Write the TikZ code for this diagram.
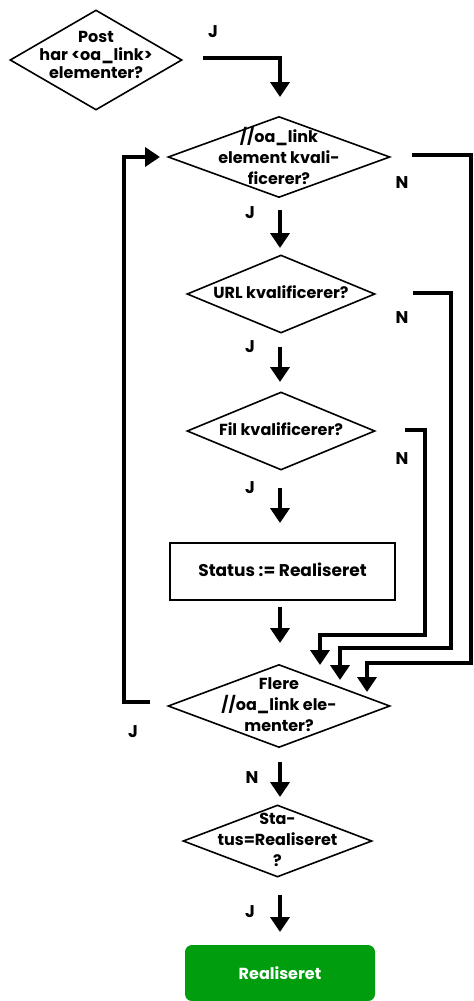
\documentclass[tikz,border=0pt]{standalone}
\usepackage{fontspec}
\setmainfont{Poppins}
\usetikzlibrary{shapes.geometric,arrows.meta}
\definecolor{okgreen}{RGB}{0,158,15}
\tikzset{
  dec/.style={diamond, draw=black, line width=1.6bp, inner sep=0pt},
  txt/.style={font=\fontsize{16bp}{18bp}\selectfont\bfseries, align=center, inner sep=0pt},
  txtw/.style={font=\fontsize{16bp}{21bp}\selectfont\bfseries, align=center, inner sep=0pt},
  lbl/.style={font=\fontsize{17bp}{17bp}\selectfont\bfseries, inner sep=0pt},
  flow/.style={line width=4bp, -{Triangle[width=19bp,length=15bp]}},
}
\begin{document}
\begin{tikzpicture}[x=1bp,y=-1bp]
\useasboundingbox (0,0) rectangle (474,1001);
% decisions
\node[dec, minimum width=172bp, minimum height=100bp] (d1) at (96,60) {};
\node[txt] (d1t) at (96,55) {Post\\har <oa\_link>\\elementer?};
\node[dec, minimum width=222bp, minimum height=81bp] (d2) at (279,157) {};
\node[txtw] (d2t) at (279,156) {//oa\_link\\element kvali-\\ficerer?};
\node[dec, minimum width=188bp, minimum height=78bp] (d3) at (281,294) {};
\node[txt] (d3t) at (281,292) {URL kvalificerer?};
\node[dec, minimum width=188bp, minimum height=78bp] (d4) at (281,431) {};
\node[txt] (d4t) at (281,429) {Fil kvalificerer?};
\node[draw=black, line width=1.6bp, minimum width=225bp, minimum height=57bp, inner sep=0pt] (box) at (282.5,571.5) {};
\node[txt, font=\fontsize{17bp}{18bp}\selectfont\bfseries] (boxt) at (282.5,570) {Status := Realiseret};
\node[dec, minimum width=222bp, minimum height=83bp] (d5) at (279,706) {};
\node[txtw] (d5t) at (279,705) {Flere\\//oa\_link ele-\\menter?};
\node[dec, minimum width=189bp, minimum height=72bp] (d6) at (277.5,841) {};
\node[txtw] (d6t) at (277.5,840) {Sta-\\tus=Realiseret\\?};
\node[fill=okgreen, rounded corners=7bp, minimum width=190bp, minimum height=56bp, inner sep=0pt] (ok) at (280,973) {};
\node[txt, text=white] (okt) at (280,973) {Realiseret};
% coordinates for connector ends
\coordinate (a1s) at (203,58);
\coordinate (a1e) at (280,97);
\coordinate (lpS) at (150,702);
\coordinate (lpE) at (160,157);
\coordinate (n2s) at (412,155);
\coordinate (n2e) at (367,692);
\coordinate (n3s) at (413,293);
\coordinate (n3e) at (340,680);
\coordinate (n4s) at (405,430);
\coordinate (n4e) at (320,665);
% connectors
\draw[flow] (a1s) -| (a1e);
\draw[flow] (lpS) -- (124,702) |- (lpE);
\draw[flow] (n2s) -- (471,155) -- (471,663) -| (n2e);
\draw[flow] (n3s) -- (451,293) -- (451,648) -| (n3e);
\draw[flow] (n4s) -- (425,430) -- (425,635) -| (n4e);
\draw[flow] (280,210) -- (280,248);
\draw[flow] (280,347) -- (280,382);
\draw[flow] (280,488) -- (280,523);
\draw[flow] (280,607) -- (280,643);
\draw[flow] (280,762) -- (280,797);
\draw[flow] (280,895) -- (280,932);
% labels
\node[lbl] (l1) at (213,32) {J};
\node[lbl] (l2) at (402,183) {N};
\node[lbl] (l3) at (250,213) {J};
\node[lbl] (l4) at (402,318) {N};
\node[lbl] (l5) at (250,347) {J};
\node[lbl] (l6) at (402,459) {N};
\node[lbl] (l7) at (250,488) {J};
\node[lbl] (l8) at (133,732) {J};
\node[lbl] (l9) at (252,778) {N};
\node[lbl] (l10) at (250,912) {J};
\end{tikzpicture}
\end{document}
